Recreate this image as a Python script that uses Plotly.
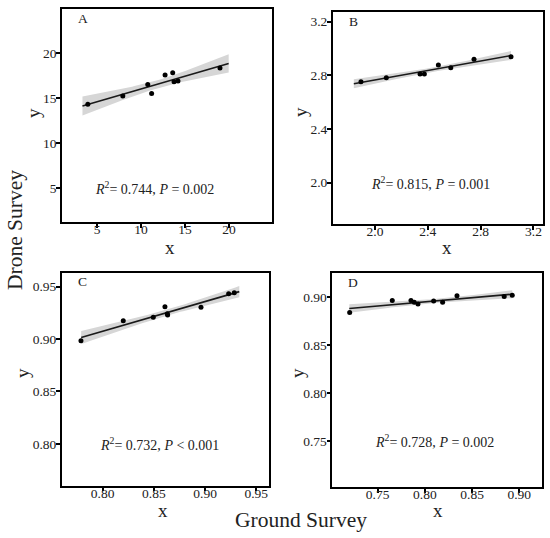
import numpy as np
import plotly.graph_objects as go

# Panel data (ground survey x, drone survey y)
a_x = [3.94, 7.92, 10.76, 11.2, 12.73, 13.6, 13.75, 14.2, 18.98]
a_y = [14.29, 15.21, 16.51, 15.5, 17.55, 17.8, 16.8, 16.88, 18.33]

b_x = [1.894, 2.086, 2.341, 2.374, 2.48, 2.574, 2.75, 3.03]
b_y = [2.753, 2.783, 2.81, 2.81, 2.877, 2.857, 2.92, 2.939]

c_x = [0.7788, 0.8201, 0.8494, 0.8608, 0.8631, 0.8634, 0.896, 0.923, 0.9285]
c_y = [0.8984, 0.9175, 0.9208, 0.9309, 0.9242, 0.923, 0.9303, 0.9433, 0.9443]

d_x = [0.7204, 0.7655, 0.7853, 0.7888, 0.7927, 0.8093, 0.8188, 0.834, 0.884, 0.8925]
d_y = [0.884, 0.8965, 0.8965, 0.8948, 0.893, 0.8961, 0.8948, 0.9017, 0.9007, 0.9021]

# extent of the drawn fit line
a_fit = [3.33, 19.97]
b_fit = [1.84, 3.03]
c_fit = [0.779, 0.9334]
d_fit = [0.720, 0.8925]

labels = ["A", "B", "C", "D"]
stats = [
    "<i>R</i><sup>2</sup>= 0.744, <i>P</i> = 0.002",
    "<i>R</i><sup>2</sup>= 0.815, <i>P</i> = 0.001",
    "<i>R</i><sup>2</sup>= 0.732, <i>P</i> &lt; 0.001",
    "<i>R</i><sup>2</sup>= 0.728, <i>P</i> = 0.002",
]

a_ticks = [5, 10, 15, 20]
b_ticks = [2.0, 2.4, 2.8, 3.2]
c_ticks = [0.80, 0.85, 0.90, 0.95]
d_ticks = [0.75, 0.80, 0.85, 0.90]

# 95% t quantiles for n-2 degrees of freedom
T95 = {6: 2.447, 7: 2.365, 8: 2.306}

FONT = "Liberation Serif"

panels = [
    dict(x=a_x, y=a_y, fit=a_fit, ticks=a_ticks, fmt="d",
         xr=[1.0, 24.9], yr=[1.2, 24.9],
         dom_x=[62, 272], dom_y=[9, 222],
         stat_pos=(0.44, 0.16), xt=(170, 247), yt=(34, 113)),
    dict(x=b_x, y=b_y, fit=b_fit, ticks=b_ticks, fmt=".1f",
         xr=[1.68, 3.27], yr=[1.69, 3.27],
         dom_x=[332.7, 542.7], dom_y=[12.3, 224.3],
         stat_pos=(0.468, 0.196), xt=(447, 247), yt=(300, 112)),
    dict(x=c_x, y=c_y, fit=c_fit, ticks=c_ticks, fmt=".2f",
         xr=[0.76, 0.9627], yr=[0.76, 0.9634],
         dom_x=[61.7, 269.3], dom_y=[272.7, 485.7],
         stat_pos=(0.469, 0.197), xt=(163, 510), yt=(22, 373)),
    dict(x=d_x, y=d_y, fit=d_fit, ticks=d_ticks, fmt=".2f",
         xr=[0.702, 0.9237], yr=[0.7017, 0.925],
         dom_x=[332.3, 541.7], dom_y=[273.3, 487.3],
         stat_pos=(0.486, 0.216), xt=(438, 510), yt=(297, 373)),
]

W, H = 550, 538


def note(text, xref, yref, x, y, size, angle=0):
    return dict(text=text, xref=xref, yref=yref, x=x, y=y, showarrow=False,
                xanchor="center", yanchor="middle", textangle=angle,
                font=dict(family=FONT, size=size, color="#222"))


fig = go.Figure()
annotations = []

for i, p in enumerate(panels):
    n = i + 1
    xa = "x" if n == 1 else f"x{n}"
    ya = "y" if n == 1 else f"y{n}"
    x = np.array(p["x"])
    y = np.array(p["y"])

    # linear fit with 95% confidence band
    slope, icpt = np.polyfit(x, y, 1)
    resid = y - (slope * x + icpt)
    s = np.sqrt(np.sum(resid ** 2) / (len(x) - 2))
    sxx = np.sum((x - x.mean()) ** 2)
    xs = np.linspace(p["fit"][0], p["fit"][1], 60)
    ys = slope * xs + icpt
    half = T95[len(x) - 2] * s * np.sqrt(1 / len(x) + (xs - x.mean()) ** 2 / sxx)

    fig.add_trace(go.Scatter(
        x=np.concatenate([xs, xs[::-1]]),
        y=np.concatenate([ys + half, (ys - half)[::-1]]),
        fill="toself", fillcolor="#d6d6d6", line=dict(width=0),
        mode="lines", hoverinfo="skip", xaxis=xa, yaxis=ya,
    ))
    fig.add_trace(go.Scatter(
        x=xs, y=ys, mode="lines", line=dict(color="#1a1a1a", width=1.6),
        hoverinfo="skip", xaxis=xa, yaxis=ya,
    ))
    fig.add_trace(go.Scatter(
        x=x, y=y, mode="markers", marker=dict(color="black", size=5),
        xaxis=xa, yaxis=ya,
    ))

    ax = dict(
        range=p["xr"], tickvals=p["ticks"], tickformat=p["fmt"],
        domain=[p["dom_x"][0] / W, p["dom_x"][1] / W],
        showline=True, mirror=True, linecolor="black", linewidth=1.5,
        ticks="outside", ticklen=4, tickwidth=2, tickcolor="black",
        ticklabelstandoff=-10,
        showgrid=False, zeroline=False,
        tickfont=dict(family=FONT, size=13.5, color="#222"),
        anchor=ya,
    )
    ay = dict(ax)
    ay.update(range=p["yr"], anchor=xa, ticklabelstandoff=-3,
              domain=[1 - p["dom_y"][1] / H, 1 - p["dom_y"][0] / H])
    key = "" if n == 1 else str(n)
    fig.update_layout(**{f"xaxis{key}": ax, f"yaxis{key}": ay})

    annotations.append(note(labels[i], f"{xa} domain", f"{ya} domain",
                            0.1, 0.957, 13.5))
    annotations.append(note(stats[i], f"{xa} domain", f"{ya} domain",
                            p["stat_pos"][0], p["stat_pos"][1], 14))
    annotations.append(note("x", "paper", "paper",
                            p["xt"][0] / W, 1 - p["xt"][1] / H, 19))
    annotations.append(note("y", "paper", "paper",
                            p["yt"][0] / W, 1 - p["yt"][1] / H, 19, -90))

annotations.append(note("Drone Survey", "paper", "paper",
                        15 / W, 1 - 230 / H, 21.5, -90))
annotations.append(note("Ground Survey", "paper", "paper",
                        301 / W, 1 - 520 / H, 21.5))

fig.update_layout(
    width=W, height=H,
    margin=dict(l=0, r=0, t=0, b=0),
    paper_bgcolor="white", plot_bgcolor="white",
    showlegend=False,
    annotations=annotations,
)

fig.write_html("out.html", config={"displayModeBar": False},
               post_script="document.body.style.margin='0';")
